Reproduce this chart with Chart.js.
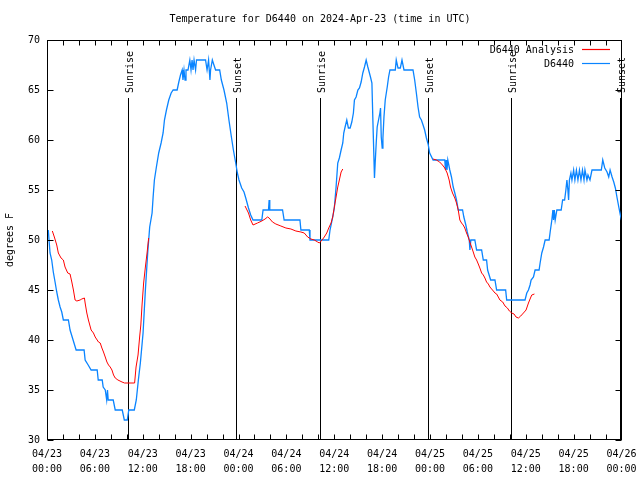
<!DOCTYPE html>
<html lang="en">
<head>
<meta charset="UTF-8">
<title>Temperature for D6440</title>
<script src="https://cdn.jsdelivr.net/npm/chart.js"></script>
<style>
    body { margin: 0; background: #fff; }
    #wrap { width: 640px; height: 480px; }
</style>
</head>
<body>
<div id="wrap"><canvas id="tempChart" width="640" height="480"></canvas></div>
<script>
// hours since 04/23 00:00 UTC
const dayLabels = ['04/23', '04/23', '04/23', '04/23', '04/24', '04/24', '04/24', '04/24', '04/25', '04/25', '04/25', '04/25', '04/26'];
const hourLabels = ['00:00', '06:00', '12:00', '18:00', '00:00', '06:00', '12:00', '18:00', '00:00', '06:00', '12:00', '18:00', '00:00'];
const yTicks = [30, 35, 40, 45, 50, 55, 60, 65, 70];

// sunrise / sunset marks
const sunHours = [10.19, 23.72, 34.21, 47.78, 58.15, 71.8];
const sunNames = ['Sunrise', 'Sunset', 'Sunrise', 'Sunset', 'Sunrise', 'Sunset'];

// D6440 observations
const obsHours = [0.16, 0.38, 0.59, 0.79, 1.01, 1.22, 1.42, 1.64, 1.85, 2.05, 2.68, 2.89, 3.27, 3.65, 4.65, 4.78, 5.16, 5.53, 6.29, 6.42,
    6.92, 7.04, 7.30, 7.48, 7.58, 7.67, 8.30, 8.55, 9.43, 9.69, 10.06, 10.25, 10.94, 11.19, 11.45, 11.70, 12.04, 12.33, 12.62, 12.87,
    13.17, 13.30, 13.46, 13.71, 14.00, 14.30, 14.55, 14.72, 14.97, 15.26, 15.56, 15.81, 16.31, 16.52, 16.73, 16.94, 17.04, 17.17, 17.30, 17.42,
    17.67, 17.90, 18.05, 18.18, 18.30, 18.43, 18.62, 18.74, 19.00, 19.25, 19.87, 20.06, 20.25, 20.42, 20.50, 20.72, 20.92, 21.13, 21.64, 21.85,
    22.18, 22.52, 22.80, 23.11, 23.36, 23.65, 23.86, 24.06, 24.40, 24.69, 24.91, 25.25, 25.53, 25.82, 26.92, 27.08, 27.76, 27.84, 27.92, 29.52,
    29.72, 31.70, 31.82, 32.87, 32.96, 35.31, 35.47, 35.81, 36.01, 36.23, 36.44, 36.64, 36.86, 37.07, 37.19, 37.36, 37.57, 37.77, 37.99, 38.20,
    38.40, 38.53, 38.74, 38.96, 39.16, 39.37, 39.58, 39.79, 40.00, 40.21, 40.54, 40.72, 40.84, 40.97, 41.04, 41.13, 41.26, 41.38, 41.55, 41.72,
    41.80, 41.89, 42.01, 42.10, 42.23, 42.39, 42.64, 42.81, 42.98, 43.65, 43.77, 43.99, 44.28, 44.49, 44.74, 45.87, 46.08, 46.29, 46.50, 46.70,
    46.92, 47.13, 47.33, 47.55, 47.76, 47.96, 48.39, 49.85, 49.94, 50.03, 50.13, 50.23, 50.48, 50.69, 50.91, 51.11, 51.32, 51.54, 52.08, 52.24,
    52.49, 52.67, 52.92, 53.00, 53.12, 53.62, 53.84, 54.47, 54.68, 55.09, 55.22, 55.60, 56.14, 56.35, 57.48, 57.61, 59.91, 60.13, 60.34, 60.54,
    60.67, 60.97, 61.17, 61.67, 61.80, 62.01, 62.23, 62.43, 62.93, 63.06, 63.27, 63.40, 63.48, 63.58, 63.69, 63.90, 64.44, 64.62, 64.87, 65.03,
    65.16, 65.28, 65.37, 65.47, 65.66, 65.79, 66.00, 66.16, 66.35, 66.54, 66.73, 66.92, 67.11, 67.30, 67.42, 67.67, 67.80, 68.05, 68.30, 69.47,
    69.65, 69.90, 70.19, 70.40, 70.57, 70.82, 71.03, 71.23, 71.45, 71.66, 71.86, 72.00];
const obsTemps = [51, 48.7, 48, 46.8, 45.8, 44.8, 44, 43.3, 42.8, 42, 42, 41, 40, 39, 39, 38, 37.5, 37, 37, 36,
    36, 35.3, 35, 34, 35, 34, 34, 33, 33, 32, 32, 33, 33, 34, 36, 37.7, 40.7, 45, 48.7, 51.3,
    52.7, 54.3, 56, 57.3, 58.7, 59.7, 60.7, 62, 63, 64, 64.7, 65, 65, 65.8, 66.5, 67, 66, 67, 66, 67,
    67, 68, 67, 68, 67, 68, 67, 68, 68, 68, 68, 67, 68, 66, 67, 68, 67.5, 67, 67, 66,
    65, 63.7, 62, 60.3, 59, 57.7, 56.7, 56, 55.2, 54.8, 54.2, 53.2, 52.5, 52, 52, 53, 53, 54, 53, 53,
    52, 52, 51, 51, 50, 50, 51, 52.3, 53.2, 55.3, 57.7, 58.2, 59, 59.7, 60.7, 61.3, 62, 61.2, 61.2, 61.8,
    62.7, 64, 64.3, 65, 65.2, 65.8, 66.7, 67.3, 68, 67.3, 66.3, 65.7, 62, 58.3, 56.2, 57.7, 59.7, 61.3, 62, 62.7,
    63.2, 60.3, 59.2, 60.2, 62.3, 64, 65.3, 66.3, 67, 67, 68, 67.2, 67.2, 68, 67, 67, 66, 64.7, 63.3, 62.3,
    62, 61.5, 61, 60.2, 59.6, 58.7, 58, 58, 57, 58, 57, 58, 57, 56.3, 55.3, 54.7, 54, 53, 53, 52.3,
    51.5, 50.8, 50, 49, 50, 50, 49, 49, 48, 48, 47, 46, 46, 45, 45, 44, 44, 44.7, 45, 45.5,
    46, 46.3, 47, 47, 47.7, 48.7, 49.3, 50, 50, 50.8, 52, 53, 52, 53, 52, 53, 53, 54, 54, 55,
    56, 55, 54, 56, 56.7, 56, 57, 56, 57, 56, 57, 56, 57, 56, 57, 56, 56.5, 56, 57, 57,
    58, 57.2, 56.8, 56.3, 57, 56.3, 55.8, 55.2, 54.2, 53.3, 52.5, 52];

// D6440 Analysis (null = gap)
const anaHours = [0.67, 0.92, 1.22, 1.42, 1.76, 2.05, 2.26, 2.60, 2.89, 3.11, 3.31, 3.52, 3.74, 4.15, 4.36, 4.69, 4.78, 4.99, 5.19, 5.53,
    5.82, 6.04, 6.45, 6.67, 6.88, 7.08, 7.30, 7.51, 7.71, 7.92, 8.14, 8.34, 8.55, 8.89, 9.40, 9.72, 10.98, 11.16, 11.41, 11.61,
    11.76, 11.91, 12.11, 12.33, 12.54, 12.74, 18.0,
    24.82, 25.25, 25.53, 25.82, 26.38, 26.92, 27.33, 27.64, 27.84, 28.26, 28.68, 29.31, 29.94, 30.57, 31.19, 31.82, 32.24, 32.67, 33.08,
    33.50, 33.92, 34.13, 34.47, 34.75, 35.06, 35.31, 35.60, 35.81, 36.01, 36.23, 36.44, 36.64, 36.86, 37.07, 42.0,
    48.39, 48.80, 49.21, 49.56, 49.85, 50.15, 50.40, 50.57, 50.82, 51.11, 51.32, 51.54, 51.74, 51.95, 52.16, 52.36, 52.58, 52.79, 52.99, 53.21,
    53.42, 53.62, 53.84, 54.05, 54.25, 54.47, 54.68, 54.88, 55.09, 55.31, 55.51, 55.72, 55.94, 56.14, 56.35, 56.56, 56.76, 57.11, 57.40, 57.70,
    57.95, 58.24, 58.53, 58.78, 59.08, 59.37, 59.71, 60.04, 60.34, 60.54, 60.75, 61.09];
const anaTemps = [50.9, 50.3, 49.5, 48.7, 48.2, 48, 47.3, 46.7, 46.6, 45.8, 45, 44, 43.9, 44, 44.1, 44.2, 43.7, 42.7, 42, 41,
    40.7, 40.3, 39.8, 39.7, 39.2, 38.8, 38.3, 37.8, 37.5, 37.3, 37, 36.5, 36.2, 36, 35.8, 35.7, 35.7, 37.3, 38.5, 40.3,
    41.5, 43.5, 45.7, 47.3, 48.7, 50.2, null,
    53.4, 52.7, 52, 51.5, 51.7, 51.9, 52.1, 52.3, 52.2, 51.8, 51.6, 51.4, 51.2, 51.1, 50.9, 50.8, 50.7, 50.3, 50.1,
    50, 49.8, 49.7, 50, 50.3, 50.7, 51.2, 51.7, 52.3, 53.3, 54.3, 55.3, 56, 56.8, 57.1, null,
    58.1, 58, 57.8, 57.5, 57.2, 56.7, 56, 55.3, 54.7, 54.2, 53.7, 53, 52, 51.7, 51.5, 51.2, 50.7, 50.3, 49.8, 49.3,
    48.8, 48.3, 48, 47.6, 47.2, 46.7, 46.5, 46.2, 45.8, 45.6, 45.3, 45.1, 44.9, 44.7, 44.6, 44.3, 44, 43.8, 43.4, 43.2,
    42.9, 42.7, 42.6, 42.3, 42.2, 42.4, 42.7, 43, 43.7, 44.1, 44.5, 44.6];

const FONT = '"DejaVu Sans Mono", "Liberation Mono", monospace';
const ANA_COLOR = '#ff0000';
const OBS_COLOR = '#0a84ff';

// gnuplot-like frame, inward ticks, title, legend and sun marks
const gnuplotLook = {
    id: 'gnuplotLook',
    beforeDatasetsDraw(chart) {
        const ctx = chart.ctx, xs = chart.scales.x, ys = chart.scales.y, a = chart.chartArea;
        ctx.save();
        ctx.strokeStyle = '#000';
        ctx.lineWidth = 1;
        ctx.fillStyle = '#000';
        ctx.font = '10px ' + FONT;
        sunHours.forEach((h, i) => {
            const px = Math.round(xs.getPixelForValue(h)) + 0.5;
            ctx.beginPath();
            ctx.moveTo(px, ys.getPixelForValue(64.2));
            ctx.lineTo(px, a.bottom);
            ctx.stroke();
            ctx.save();
            ctx.translate(px + 4, 93);
            ctx.rotate(-Math.PI / 2);
            ctx.textAlign = 'left';
            ctx.textBaseline = 'alphabetic';
            ctx.fillText(sunNames[i], 0, 0);
            ctx.restore();
        });
        ctx.restore();
    },
    afterDraw(chart) {
        const ctx = chart.ctx, xs = chart.scales.x, ys = chart.scales.y, a = chart.chartArea;
        ctx.save();
        ctx.strokeStyle = '#000';
        ctx.lineWidth = 1;
        const L = Math.round(a.left) + 0.5, R = Math.round(a.right) - 0.5;
        const T = Math.round(a.top) + 0.5, B = Math.round(a.bottom) - 0.5;
        ctx.strokeRect(L, T, R - L, B - T);
        ctx.beginPath();
        yTicks.forEach(v => {
            const py = Math.round(ys.getPixelForValue(v)) + 0.5;
            ctx.moveTo(L, py); ctx.lineTo(L + 6, py);
            ctx.moveTo(R, py); ctx.lineTo(R - 6, py);
        });
        for (let h = 2; h < 72; h += 2) {
            const px = Math.round(xs.getPixelForValue(h)) + 0.5;
            ctx.moveTo(px, B); ctx.lineTo(px, B - 5);
            ctx.moveTo(px, T); ctx.lineTo(px, T + 5);
        }
        ctx.stroke();

        ctx.fillStyle = '#000';
        ctx.font = '10px ' + FONT;
        ctx.textAlign = 'center';
        ctx.textBaseline = 'middle';
        ctx.fillText('Temperature for D6440 on 2024-Apr-23 (time in UTC)', 320, 19);

        ctx.save();
        ctx.translate(10, 240);
        ctx.rotate(-Math.PI / 2);
        ctx.fillText('degrees F', 0, 0);
        ctx.restore();

        // legend: text right-aligned, sample line on the right
        const legendColors = [ANA_COLOR, OBS_COLOR];
        ctx.textAlign = 'right';
        chart.data.datasets.forEach((ds, i) => {
            const y = 49 + i * 14;
            ctx.fillStyle = '#000';
            ctx.fillText(ds.label, 574, y + 1);
            ctx.beginPath();
            ctx.strokeStyle = legendColors[i];
            ctx.lineWidth = 1.2;
            ctx.moveTo(582, y + 0.5);
            ctx.lineTo(610, y + 0.5);
            ctx.stroke();
        });
        ctx.restore();
    }
};

const ctx = document.getElementById('tempChart').getContext('2d');
new Chart(ctx, {
    type: 'line',
    data: {
        datasets: [
            {
                label: 'D6440 Analysis',
                data: anaHours.map((h, i) => ({ x: h, y: anaTemps[i] })),
                borderColor: ANA_COLOR,
                borderWidth: 1,
                pointRadius: 0,
                tension: 0,
                spanGaps: false
            },
            {
                label: 'D6440',
                data: obsHours.map((h, i) => ({ x: h, y: obsTemps[i] })),
                borderColor: OBS_COLOR,
                borderWidth: 1.3,
                pointRadius: 0,
                tension: 0
            }
        ]
    },
    options: {
        responsive: false,
        animation: false,
        events: [],
        layout: { padding: { top: 40, right: 18.5, left: 0, bottom: 0 } },
        plugins: {
            legend: { display: false },
            title: { display: false },
            tooltip: { enabled: false }
        },
        scales: {
            x: {
                type: 'linear',
                min: 0,
                max: 72,
                afterFit(scale) {
                    scale.height = 40;
                    scale.paddingLeft = 0;
                    scale.paddingRight = 0;
                },
                afterBuildTicks(scale) {
                    scale.ticks = dayLabels.map((d, i) => ({ value: i * 6 }));
                },
                grid: { display: false, drawTicks: false },
                border: { display: false },
                ticks: {
                    autoSkip: false,
                    maxRotation: 0,
                    padding: 7,
                    color: '#000',
                    font: { family: FONT, size: 10, lineHeight: 1.5 },
                    callback: (v) => [dayLabels[v / 6], hourLabels[v / 6]]
                }
            },
            y: {
                min: 30,
                max: 70,
                afterFit(scale) {
                    scale.width = 47;
                    scale.paddingTop = 0;
                    scale.paddingBottom = 0;
                },
                grid: { display: false, drawTicks: false },
                border: { display: false },
                ticks: {
                    stepSize: 5,
                    padding: 7,
                    color: '#000',
                    font: { family: FONT, size: 10 }
                }
            }
        }
    },
    plugins: [gnuplotLook]
});
</script>
</body>
</html>
